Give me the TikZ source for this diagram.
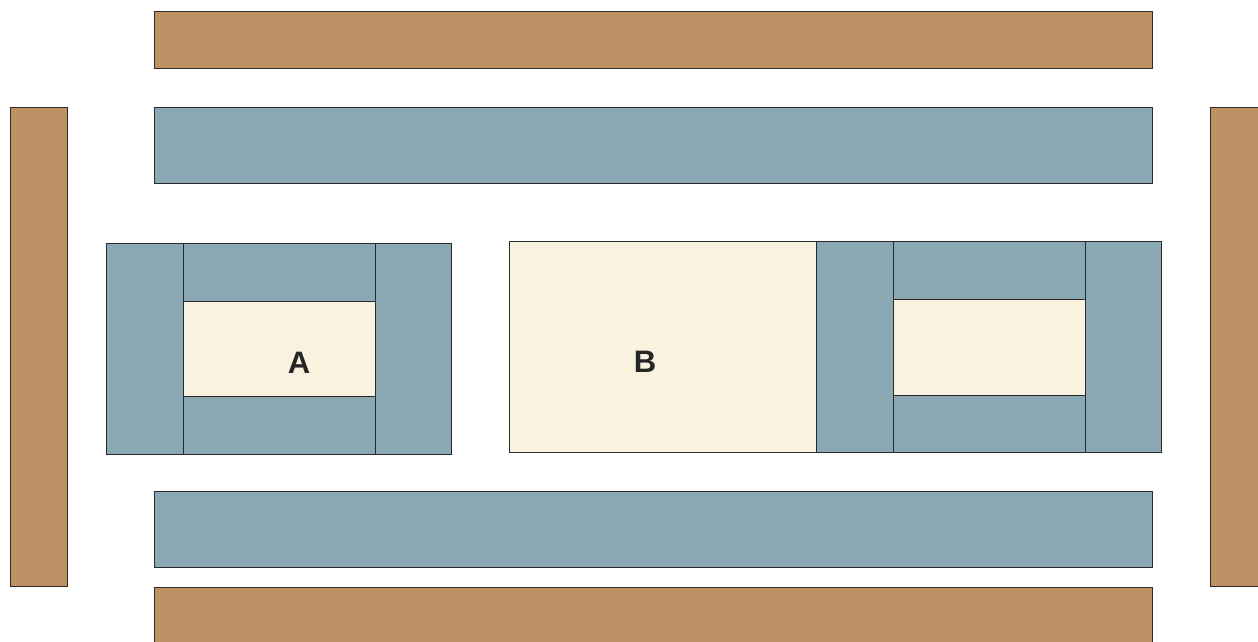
\documentclass[tikz,border=0pt]{standalone}
\usepackage{fontspec}
\setmainfont{Liberation Sans}
\definecolor{brownc}{HTML}{BE9064}
\definecolor{bluec}{HTML}{8AA9B4}
\definecolor{creamc}{HTML}{F8F2DE}
\definecolor{edgec}{HTML}{2A2A2A}
\begin{document}
\begin{tikzpicture}[x=1pt,y=-1pt,
  brownbox/.style={fill=brownc,draw=edgec,line width=0.9pt},
  bluebox/.style={fill=bluec,draw=edgec,line width=0.9pt},
  creambox/.style={fill=creamc,draw=edgec,line width=0.9pt},
  lbl/.style={font=\bfseries\fontsize{31}{31}\selectfont,text=black!85}]
\useasboundingbox (0,0) rectangle (1258,641);
% outer brown bars
\draw[brownbox] (154,11) rectangle (1152,68);
\draw[brownbox] (10,107) rectangle (67,586);
\draw[brownbox] (1210,107) rectangle (1262,586);
\draw[brownbox] (154,587) rectangle (1152,645);
% long blue bars
\draw[bluebox] (154,107) rectangle (1152,183);
\draw[bluebox] (154,491) rectangle (1152,567);
% group A
\draw[bluebox] (106,243) rectangle (183,454);
\draw[bluebox] (375,243) rectangle (451,454);
\draw[bluebox] (183,243) rectangle (375,301);
\draw[bluebox] (183,396) rectangle (375,454);
\draw[creambox] (183,301) rectangle (375,396);
\node[lbl] (A) at (299,363) {A};
% B
\draw[creambox] (509,241) rectangle (816,452);
\node[lbl] (B) at (645,362) {B};
% right group
\draw[bluebox] (816,241) rectangle (893,452);
\draw[bluebox] (1085,241) rectangle (1161,452);
\draw[bluebox] (893,241) rectangle (1085,299);
\draw[bluebox] (893,395) rectangle (1085,452);
\draw[creambox] (893,299) rectangle (1085,395);
\end{tikzpicture}
\end{document}
